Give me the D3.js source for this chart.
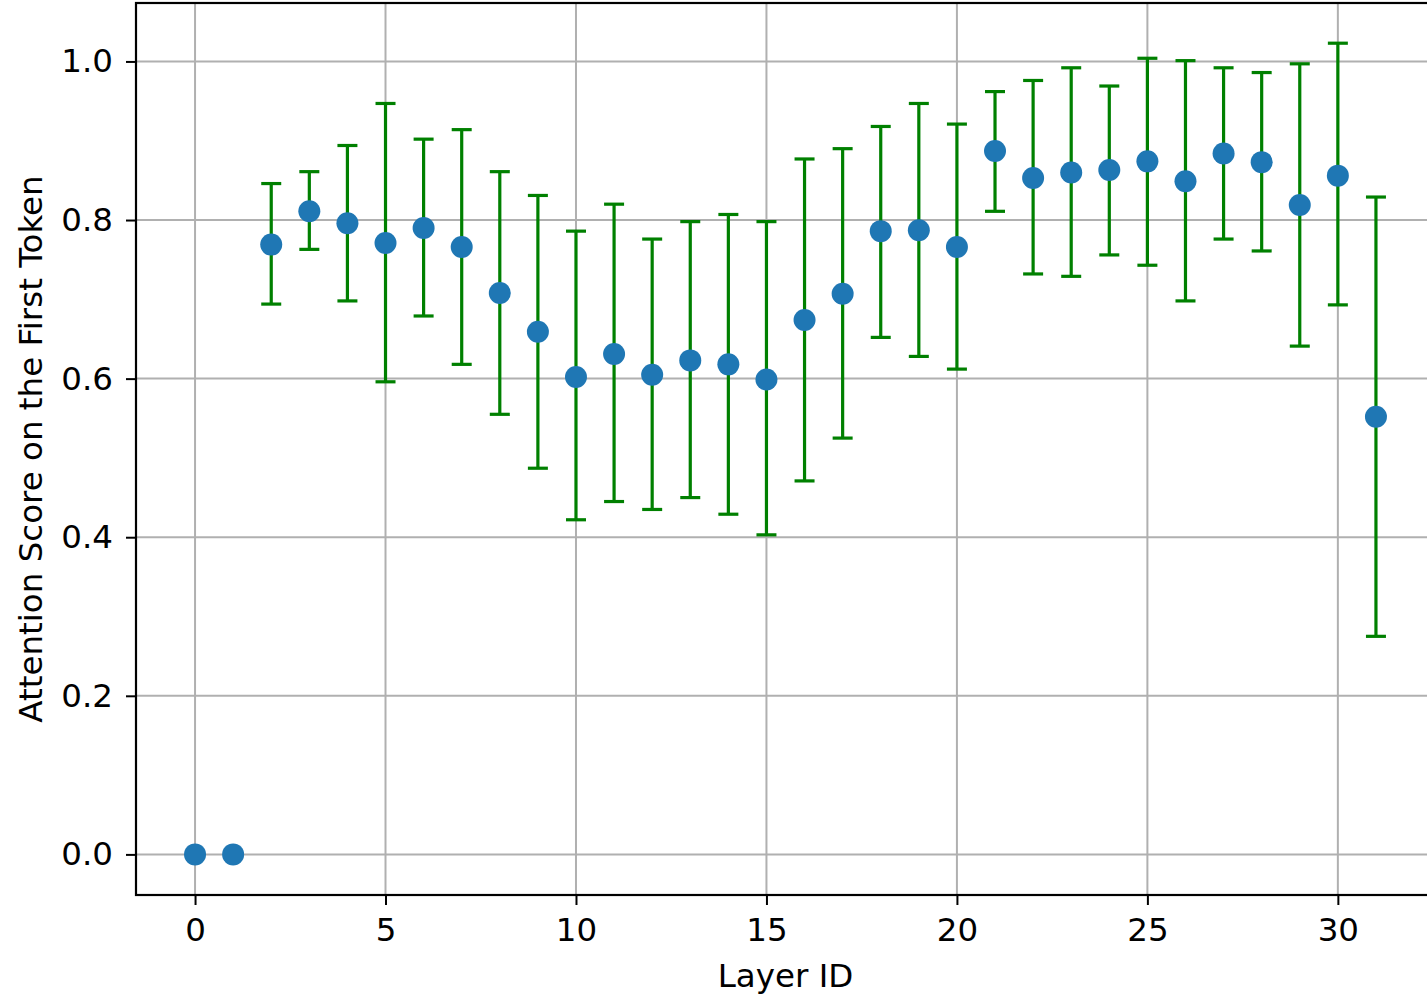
<!DOCTYPE html>
<html>
<head>
<meta charset="utf-8">
<script src="https://cdn.jsdelivr.net/npm/d3@7"></script>
<style>
  body { margin: 0; background: #fff; }
  svg text { font-family: "DejaVu Sans", sans-serif; }
</style>
</head>
<body>
<div id="chart"></div>
<script>
// Layer ids and mean attention on the first token, with the error bar ends
var layers = d3.range(0, 32);
var means = [0, 0, 0.769, 0.811, 0.796, 0.771, 0.790, 0.766, 0.708, 0.659,
  0.602, 0.631, 0.605, 0.623, 0.618, 0.599, 0.674, 0.707, 0.786, 0.787,
  0.766, 0.887, 0.853, 0.860, 0.863, 0.874, 0.849, 0.884, 0.873, 0.819,
  0.856, 0.552];
var errTop = [0, 0, 0.846, 0.861, 0.894, 0.947, 0.902, 0.914, 0.861, 0.831,
  0.786, 0.820, 0.776, 0.798, 0.807, 0.798, 0.877, 0.890, 0.918, 0.947,
  0.921, 0.962, 0.976, 0.992, 0.969, 1.004, 1.001, 0.992, 0.986, 0.997,
  1.023, 0.829];
var errBottom = [0, 0, 0.694, 0.763, 0.698, 0.596, 0.679, 0.618, 0.555, 0.487,
  0.422, 0.445, 0.435, 0.450, 0.429, 0.403, 0.471, 0.525, 0.652, 0.628,
  0.612, 0.811, 0.732, 0.729, 0.756, 0.743, 0.698, 0.776, 0.761, 0.641,
  0.693, 0.275];
var xTicks = [0, 5, 10, 15, 20, 25, 30];
var yTicks = [0.0, 0.2, 0.4, 0.6, 0.8, 1.0];

var data = layers.map(function (d, i) {
  return { layer: d, mean: means[i], hi: errTop[i], lo: errBottom[i] };
});

var fullWidth = 1427, fullHeight = 997;
var margin = { top: 3, right: -8, bottom: 102, left: 136 };
var width = fullWidth - margin.left - margin.right;
var height = fullHeight - margin.top - margin.bottom;
var fontSize = "32.5px";

var svg = d3
  .select("#chart")
  .append("svg")
  .attr("width", fullWidth)
  .attr("height", fullHeight)
  .append("g")
  .attr("transform", "translate(" + margin.left + "," + margin.top + ")");

var xScale = d3.scaleLinear().domain([-1.55, 32.55]).range([0, width]);
var yScale = d3.scaleLinear().domain([-0.0512, 1.0737]).range([height, 0]);

// grid
svg
  .append("g")
  .selectAll("line.vgrid")
  .data(xTicks)
  .enter()
  .append("line")
  .attr("x1", (d) => xScale(d))
  .attr("x2", (d) => xScale(d))
  .attr("y1", 0)
  .attr("y2", height)
  .attr("stroke", "#b0b0b0")
  .attr("stroke-width", 2);

svg
  .append("g")
  .selectAll("line.hgrid")
  .data(yTicks)
  .enter()
  .append("line")
  .attr("x1", 0)
  .attr("x2", width)
  .attr("y1", (d) => yScale(d))
  .attr("y2", (d) => yScale(d))
  .attr("stroke", "#b0b0b0")
  .attr("stroke-width", 2);

// error bars
var errGroups = svg
  .selectAll(".err")
  .data(data.filter((d) => d.hi !== d.lo))
  .enter()
  .append("g")
  .attr("class", "err")
  .attr("stroke", "green")
  .attr("stroke-width", 3.2);

errGroups
  .append("line")
  .attr("x1", (d) => xScale(d.layer))
  .attr("x2", (d) => xScale(d.layer))
  .attr("y1", (d) => yScale(d.hi))
  .attr("y2", (d) => yScale(d.lo));

errGroups
  .append("line")
  .attr("x1", (d) => xScale(d.layer) - 10)
  .attr("x2", (d) => xScale(d.layer) + 10)
  .attr("y1", (d) => yScale(d.hi))
  .attr("y2", (d) => yScale(d.hi));

errGroups
  .append("line")
  .attr("x1", (d) => xScale(d.layer) - 10)
  .attr("x2", (d) => xScale(d.layer) + 10)
  .attr("y1", (d) => yScale(d.lo))
  .attr("y2", (d) => yScale(d.lo));

// points
svg
  .selectAll("circle")
  .data(data)
  .enter()
  .append("circle")
  .attr("cx", (d) => xScale(d.layer))
  .attr("cy", (d) => yScale(d.mean))
  .attr("r", 11)
  .attr("fill", "#1f77b4");

// axes
var xAxis = svg
  .append("g")
  .attr("transform", "translate(0," + height + ")")
  .call(d3.axisBottom(xScale).tickValues(xTicks).tickSize(10).tickPadding(13).tickFormat(d3.format("d")));
var yAxis = svg
  .append("g")
  .call(d3.axisLeft(yScale).tickValues(yTicks).tickSize(10).tickPadding(13).tickFormat(d3.format(".1f")));

[xAxis, yAxis].forEach(function (ax) {
  ax.select(".domain").remove();
  ax.selectAll("line").attr("stroke", "#000").attr("stroke-width", 2);
  ax.selectAll("text").attr("fill", "#000").style("font-size", fontSize);
});

// spines
svg
  .append("rect")
  .attr("x", 0)
  .attr("y", 0)
  .attr("width", width)
  .attr("height", height)
  .attr("fill", "none")
  .attr("stroke", "#000")
  .attr("stroke-width", 2.2);

// labels
svg
  .append("text")
  .attr("x", width / 2)
  .attr("y", height + 92)
  .attr("text-anchor", "middle")
  .style("font-size", fontSize)
  .text("Layer ID");

svg
  .append("text")
  .attr("transform", "translate(" + -94 + "," + height / 2 + ") rotate(-90)")
  .attr("text-anchor", "middle")
  .style("font-size", fontSize)
  .text("Attention Score on the First Token");
</script>
</body>
</html>
